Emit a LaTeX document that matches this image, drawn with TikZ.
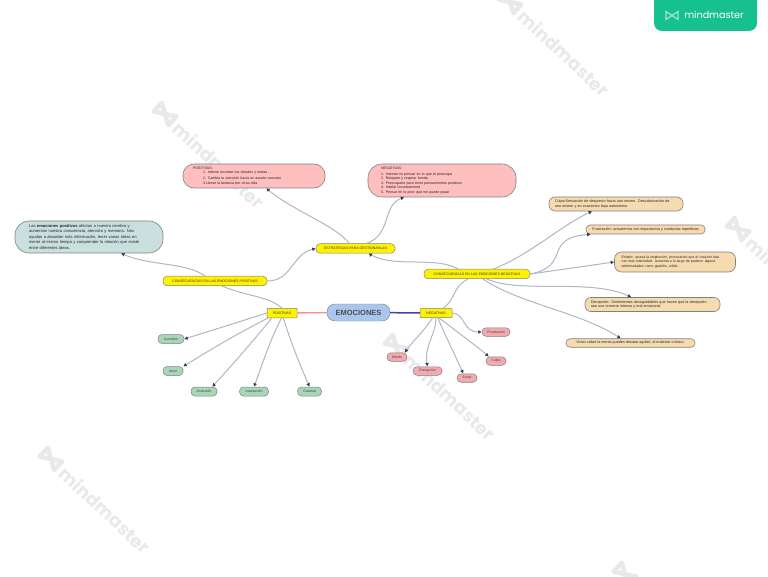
\documentclass[tikz,border=0pt]{standalone}
\usepackage{fontspec}
\setmainfont{Liberation Sans}
\newfontfamily\markfont{Poppins}
\usetikzlibrary{arrows.meta}
\definecolor{linkgray}{HTML}{B0B6C2}
\definecolor{tipblue}{HTML}{2C3E60}
\definecolor{markgray}{HTML}{E9E9E9}
\definecolor{brandgreen}{HTML}{17C08F}
\definecolor{cenblue}{HTML}{A9C7EC}
\definecolor{pinkbox}{HTML}{FFBFBF}
\definecolor{tealbox}{HTML}{C9E0DF}
\definecolor{sandbox}{HTML}{F6DBB0}
\definecolor{goodfill}{HTML}{A9D6B8}
\definecolor{badfill}{HTML}{F2A9B0}
\begin{document}
\begin{tikzpicture}[x=1pt,y=-1pt]
  % Styles
  \tikzset{
    topic/.style={draw=black!50, fill=yellow, rounded corners=4pt, line width=0.5pt, inner sep=0pt, text=black!80, font=\fontsize{3.5}{4}\selectfont, minimum height=9.5pt},
    textbox/.style={draw=black!50, line width=0.6pt, inner ysep=0pt, align=left, text=black!85},
    good/.style={draw=black!50, fill=goodfill, rounded corners=4pt, line width=0.5pt, inner sep=0pt, text=black!75, font=\fontsize{3.5}{4}\selectfont, minimum height=9pt},
    bad/.style={draw=black!50, fill=badfill, rounded corners=4pt, line width=0.5pt, inner sep=0pt, text=black!75, font=\fontsize{3.5}{4}\selectfont, minimum height=8.5pt},
    link/.style={-{Latex[length=3.5pt,width=4pt,color=tipblue]}, linkgray, line width=1pt},
    plainlink/.style={linkgray, line width=1pt},
    wmtext/.style={markgray, font=\fontsize{18}{20}\selectfont\markfont\bfseries, rotate=-43, anchor=west},
  }
  \useasboundingbox (0,0) rectangle (768,577);

  % Marcas de agua
  \foreach \x/\y in {152/100, 497/-12, 383/332, 38/445, 725/215, 612/560}{
    \draw[markgray, line width=4.5pt, line join=round, rotate around={-43:(\x+13,\y+14)}] (\x+3,\y+8) -- (\x+3,\y+20) -- (\x+13,\y+14) -- (\x+23,\y+20) -- (\x+23,\y+8) -- (\x+13,\y+14) -- cycle;
    \node[wmtext] at (\x+22,\y+23) {mindmaster};
  }

  % Sello
  \fill[brandgreen, rounded corners=8pt] (654,-10) rectangle (757,31);
  \draw[white!60!brandgreen, line width=1.2pt] (666,11.5) -- (666,19.5) -- (672,15.5) -- (678,19.5) -- (678,11.5) -- (672,15.5) -- cycle;
  \node[white, font=\fontsize{9.6}{10}\selectfont\markfont] (sello) at (714,15) {mindmaster};

  % Nodos
  \node[draw=black!50, fill=cenblue, rounded corners=8pt, minimum width=63pt, minimum height=17pt, inner sep=0pt, font=\fontsize{7.5}{8}\selectfont\bfseries, text=black!70] (emociones) at (358.5,312.5) {EMOCIONES};
  \node[topic, rounded corners=0.5pt, minimum width=30pt, minimum height=9.5pt] (positivas) at (282,313) {POSITIVAS};
  \node[topic, rounded corners=0.5pt, minimum width=32pt, minimum height=9pt] (negativas) at (436,313) {NEGATIVAS};
  \node[topic, minimum width=104pt] (consPos) at (215,281) {CONSECUENCIAS EN LAS EMOCIONES POSITIVAS};
  \node[topic, minimum width=106pt] (consNeg) at (477,274) {CONSECUENCIAS EN LAS EMOCIONES NEGATIVAS};
  \node[topic, minimum width=79pt] (estrategias) at (355.5,248.5) {ESTRATEGIAS PARA GESTIONARLAS};

  \node[textbox, fill=pinkbox, rounded corners=11pt, minimum width=142pt, minimum height=24pt, inner xsep=10pt, text width=122pt, font=\fontsize{3.6}{4.3}\selectfont] (pinkPos) at (254,176) {POSITIVAS:\\\hspace{10pt}1. Intenta recordar tus virtudes y metas ...\\[1.5pt]\hspace{10pt}2. Cambia tu atención hacia un asunto concreto\\\hspace{10pt}3.Llenar la fantasía por otras vida};
  \node[textbox, fill=pinkbox, rounded corners=14pt, minimum width=148pt, minimum height=33pt, inner xsep=13pt, text width=122pt, font=\fontsize{3.6}{4.5}\selectfont] (pinkNeg) at (442,180.5) {NEGATIVAS:\\[1pt]1. Intentar no pensar en lo que te preocupa\\2. Relajarte y respirar honda\\3. Preocuparte para tener pensamientos positivos\\4. Hablar honestamente\\5. Pensar en lo peor que me puede pasar};
  \node[textbox, fill=tealbox, rounded corners=14pt, minimum width=148pt, minimum height=32pt, inner xsep=14pt, text width=120pt, font=\fontsize{4.1}{5.5}\selectfont] (tealBox) at (89,237) {Las \textbf{emociones positivas} afectan a nuestro cerebro y\\aumentan nuestra consciencia, atención y memoria. Nos\\ayudan a absorber más información, tener varias ideas en\\mente al mismo tiempo y comprender la relación que existe\\entre diferentes ideas.};

  \node[textbox, fill=sandbox, rounded corners=6pt, minimum width=134pt, minimum height=14pt, inner xsep=6pt, text width=122pt, font=\fontsize{3.7}{4.6}\selectfont] (culpa) at (616,204) {Culpa:Sensación de desprecio hacia uno mismo. Desvalorización de\\uno mismo y en ocasiones baja autoestima};
  \node[textbox, fill=sandbox, rounded corners=4pt, minimum width=119pt, minimum height=9pt, inner sep=0pt, align=center, font=\fontsize{3.7}{4.4}\selectfont] (frustra) at (645.5,229.5) {Frustración: actuaremos con impaciencia y conductas repetitivas};
  \node[textbox, fill=sandbox, rounded corners=7pt, minimum width=121pt, minimum height=20pt, inner xsep=7pt, text width=107pt, font=\fontsize{3.5}{4.8}\selectfont] (enfado) at (675,262) {Enfado: arrasa la inspiración, provocando que el corazón lata\\con más intensidad. Aumenta a lo largo de padecer alguna\\enfermedades como gastritis, colitis};
  \node[textbox, fill=sandbox, rounded corners=6pt, minimum width=135pt, minimum height=14pt, inner xsep=6pt, text width=123pt, font=\fontsize{3.7}{4.8}\selectfont] (decep) at (652.5,304.5) {Decepción: Sentimientos desagradables que hacen que la decepción\\sea una vivencia intensa y mal emocional};
  \node[textbox, fill=sandbox, rounded corners=4pt, minimum width=129pt, minimum height=8.5pt, inner sep=0pt, align=center, font=\fontsize{3.7}{4.4}\selectfont] (vicios) at (630.5,343) {Vicios sobre la mente pueden desatar agobio, el malestar crónico.};

  \foreach \name/\x/\y/\w/\txt in {
    asombro/171/339/26/Asombro,
    amor/173/371/20/Amor,
    diversion/204/391.5/26/Diversión,
    inspira/254/391.5/29/Inspiración,
    gratitud/309.5/391.5/24/Gratitud}{
    \node[good, minimum width=\w pt] (\name) at (\x,\y) {\txt};
  }
  \foreach \name/\x/\y/\w/\txt in {
    miedo/397/357/20/Miedo,
    decepcion/427.5/371/29/Decepción,
    enojo/467/378/20/Enojo,
    culpita/496/361/20/Culpa,
    frustracion/496/332/28/Frustración}{
    \node[bad, minimum width=\w pt] (\name) at (\x,\y) {\txt};
  }

  % Ramas centrales
  \draw[red!45, line width=1.3pt] (emociones) -- (positivas);
  \draw[blue!60!black!75, line width=1.5pt] (emociones) -- (negativas);

  % Conexiones
  \draw[plainlink] (positivas.north) .. controls (268,296) and (245,296) .. (consPos.-35);
  \draw[link] (consPos.153) .. controls (185,262) and (150,266) .. (tealBox.-27);
  \draw[link] (consPos.east) .. controls (292,281) and (292,254) .. (estrategias.west);
  \draw[link] (estrategias.141) .. controls (335,225) and (295,212) .. (pinkPos.-45);
  \draw[link] (estrategias.25) .. controls (392,235) and (382,205) .. (pinkNeg.-156);
  \draw[link] (consNeg.165) .. controls (435,256) and (395,268) .. (estrategias.-21);
  \draw[link] (consNeg.17) .. controls (530,255) and (560,226) .. (culpa.-163);
  \draw[link] (consNeg.east) .. controls (572,266) and (542,238) .. (frustra.-175);
  \draw[link] (consNeg.east) -- (enfado.west);
  \draw[link] (consNeg.-27) .. controls (520,294) and (590,278) .. (decep.161);
  \draw[link] (consNeg.-40) .. controls (520,304) and (580,312) .. (vicios.155);
  \draw[plainlink] (negativas.35) .. controls (456,300) and (452,287) .. (consNeg.-151);

  \draw[link] (positivas.west) .. controls (245,320) and (210,331) .. (asombro.east);
  \draw[link] (positivas.200) .. controls (240,332) and (210,350) .. (amor.24);
  \draw[link] (positivas.206) .. controls (250,345) and (232,365) .. (diversion.30);
  \draw[link] (positivas.-95) .. controls (270,340) and (262,365) .. (inspira.90);
  \draw[link] (positivas.-75) .. controls (290,340) and (300,365) .. (gratitud.90);

  \draw[link] (negativas.east) .. controls (466,314) and (462,332) .. (frustracion.west);
  \draw[link] (negativas.-60) .. controls (455,330) and (475,345) .. (culpita.148);
  \draw[link] (negativas.-70) .. controls (445,335) and (455,355) .. (enojo.130);
  \draw[link] (negativas.-90) .. controls (436,335) and (424,345) .. (decepcion.90);
  \draw[link] (negativas.-125) .. controls (425,330) and (412,342) .. (miedo.30);
\end{tikzpicture}
\end{document}
